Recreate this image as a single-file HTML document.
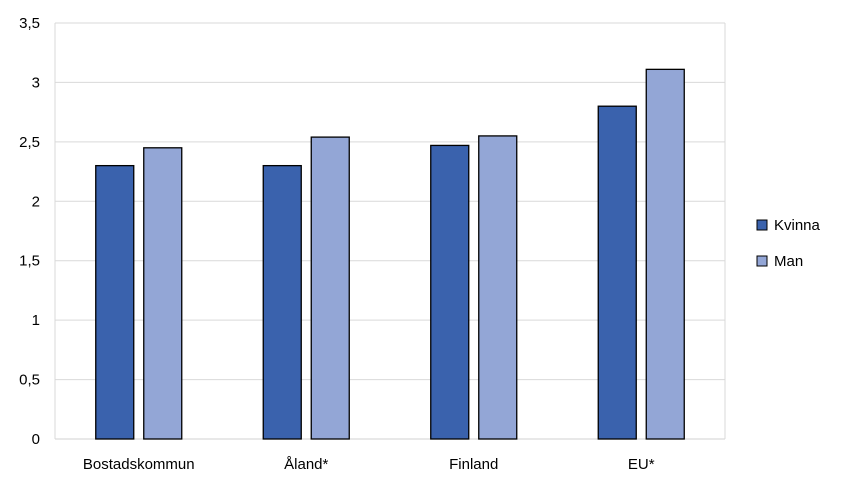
<!DOCTYPE html>
<html><head><meta charset="utf-8"><style>
body{margin:0;background:#fff;font-family:"Liberation Sans",sans-serif;}
svg text{font-family:"Liberation Sans",sans-serif;font-size:15px;fill:#000;}
</style></head><body>
<svg id="chart" width="845" height="487"></svg>
<script>
const categories = ["Bostadskommun","Åland*","Finland","EU*"];
const kvinna = [2.3, 2.3, 2.47, 2.8];
const man = [2.45, 2.54, 2.55, 3.11];
const yTicks = [0,0.5,1,1.5,2,2.5,3,3.5];
const yTickLabels = ["0","0,5","1","1,5","2","2,5","3","3,5"];
const seriesNames = ["Kvinna","Man"];

const svg = document.getElementById('chart');
const NS = "http://www.w3.org/2000/svg";
const X0=55, X1=725, Y0=439, Y1=23, YMAX=3.5;
const y = v => Y0 - (v/YMAX)*(Y0-Y1);
const gw = (X1-X0)/categories.length;
const xc = i => X0 + gw*(i+0.5);
function mk(tag, attrs){const e=document.createElementNS(NS,tag);for(const k in attrs)e.setAttribute(k,attrs[k]);svg.appendChild(e);return e;}

yTicks.forEach((t,i)=>{
  const l=mk('line',{x1:X0,x2:X1,y1:y(t),y2:y(t),stroke:i===0?'#d0d0d0':'#d9d9d9','stroke-width':1});
  
  
  const tx=mk('text',{x:40,y:y(t)+5,'text-anchor':'end'});
  tx.textContent=yTickLabels[i];
  
  
});
const b1=mk('line',{x1:X0,x2:X0,y1:Y1,y2:Y0,stroke:'#d9d9d9'});


const b2=mk('line',{x1:X1,x2:X1,y1:Y1,y2:Y0,stroke:'#d9d9d9'});



const colors=['#3a62ad','#93a6d6'];
const BW=38;
categories.forEach((c,i)=>{
  [kvinna[i],man[i]].forEach((v,s)=>{
    const x = xc(i) + (s===0 ? -43 : 5);
    const r=mk('rect',{x:x,y:y(v),width:BW,height:Y0-y(v),fill:colors[s],stroke:'#000','stroke-width':1.3});
    
    
  });
  const t=mk('text',{x:xc(i),y:469,'text-anchor':'middle'});
  t.textContent=c;
  
  
});

seriesNames.forEach((n,s)=>{
  const yy=220+s*36;
  const r=mk('rect',{x:757,y:yy,width:10,height:10,fill:colors[s],stroke:'#000','stroke-width':1});
  
  
  const t=mk('text',{x:774,y:yy+10});
  t.textContent=n;
  
  
});
</script>
</body></html>
